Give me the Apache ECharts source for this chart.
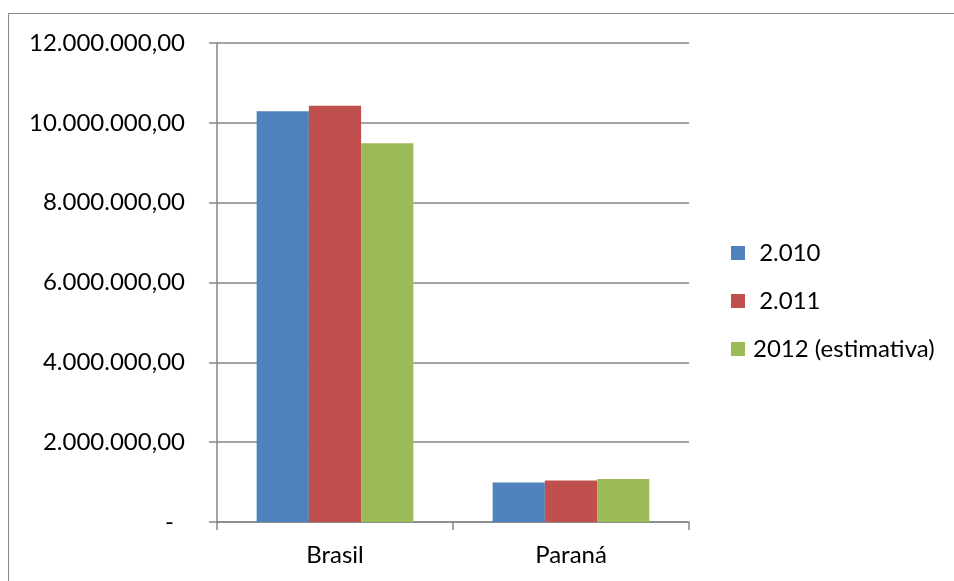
<!DOCTYPE html>
<html>
<head>
<meta charset="utf-8">
<script src="https://cdn.jsdelivr.net/npm/echarts@6/dist/echarts.min.js"></script>
<style>
  html, body { margin: 0; padding: 0; background: #fff; }
  #main { width: 954px; height: 581px; }
</style>
</head>
<body>
<div id="main"></div>
<script>
const categories = ["Brasil", "Paraná"];
const seriesNames = [" 2.010", " 2.011", "2012 (estimativa)"];
const values2010 = [10290000, 990000];
const values2011 = [10430000, 1040000];
const values2012 = [9490000, 1080000];

const colors = ["#4F81BD", "#C0504D", "#9BBB59"];
const font = "Lato, 'Noto Sans', sans-serif";

function fmt(v) {
  if (v === 0) return "{z|-}";
  const s = Math.round(v).toString().replace(/\B(?=(\d{3})+(?!\d))/g, ".");
  return s + ",00";
}

const chart = echarts.init(document.getElementById("main"));

const option = {
  animation: false,
  color: colors,
  textStyle: { fontFamily: font },
  graphic: [
    {
      type: "rect",
      shape: { x: 8.5, y: 13.5, width: 1000, height: 1000 },
      style: { fill: "none", stroke: "#898989", lineWidth: 1 },
      silent: true
    }
  ],
  grid: { left: 217, right: 265, top: 43, bottom: 59 },
  legend: {
    orient: "vertical",
    left: 731,
    top: 241,
    padding: 0,
    itemWidth: 14,
    itemHeight: 14,
    itemGap: 24,
    icon: "rect",
    textStyle: { fontSize: 24, lineHeight: 24, color: "#000", fontFamily: font, padding: [0, 0, 0, 3] },
    data: seriesNames
  },
  xAxis: {
    type: "category",
    data: categories,
    axisLine: { lineStyle: { color: "#868686", width: 1.5 } },
    axisTick: { show: true, length: 8, lineStyle: { color: "#868686", width: 1.5 } },
    axisLabel: { fontSize: 24, color: "#000", margin: 21, fontFamily: font }
  },
  yAxis: {
    type: "value",
    min: 0,
    max: 12000000,
    interval: 2000000,
    axisLine: { show: true, lineStyle: { color: "#868686", width: 1.5 } },
    axisTick: { show: true, length: 8, lineStyle: { color: "#868686", width: 1.5 } },
    splitLine: { lineStyle: { color: "#868686", width: 1.5 } },
    axisLabel: {
      fontSize: 24,
      color: "#000",
      margin: 32,
      fontFamily: font,
      formatter: fmt,
      rich: { z: { fontSize: 24, color: "#000", fontFamily: font, padding: [0, 11, 0, 0] } }
    }
  },
  series: [
    { name: seriesNames[0], type: "bar", data: values2010, barGap: "0%", barCategoryGap: "33.6%" },
    { name: seriesNames[1], type: "bar", data: values2011, barGap: "0%", barCategoryGap: "33.6%" },
    { name: seriesNames[2], type: "bar", data: values2012, barGap: "0%", barCategoryGap: "33.6%" }
  ]
};

chart.setOption(option);
</script>
</body>
</html>
